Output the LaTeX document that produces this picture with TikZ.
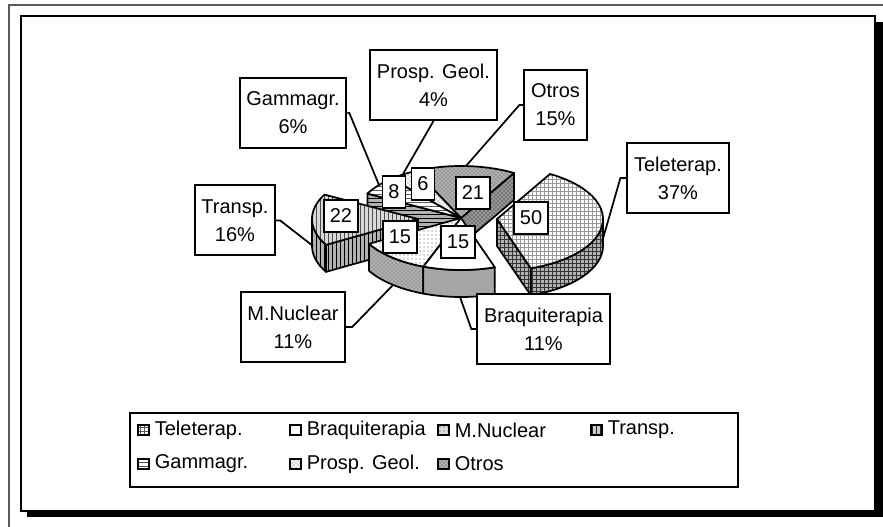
\documentclass[tikz,border=0pt]{standalone}
\usepackage{fontspec}
\setmainfont{Liberation Sans}
\usepackage{tikz}
\usetikzlibrary{positioning,calc,patterns}
\newcommand{\lbl}{\fontsize{15pt}{21pt}\selectfont}
% top face of a slice: apex, from, to, style
\newcommand{\slicetop}[4]{%
  \draw[#4] (#1) -- ($(#1)+(#2:79.5pt and 39pt)$)
    arc[start angle=#2, end angle=#3, x radius=79.5pt, y radius=39pt] -- cycle;}
% outer rim of a slice
\newcommand{\slicerim}[4]{%
  \draw[#4] ($(#1)+(#2:79.5pt and 39pt)$)
    arc[start angle=#2, end angle=#3, x radius=79.5pt, y radius=39pt]
    -- ++(0pt,-20.25pt)
    arc[start angle=#3, end angle=#2, x radius=79.5pt, y radius=39pt] -- cycle;}
% cut face along one radius
\newcommand{\slicecut}[3]{%
  \draw[#3] (#1) -- ($(#1)+(#2:79.5pt and 39pt)$) -- ++(0pt,-20.25pt)
    -- ($(#1)+(0pt,-20.25pt)$) -- cycle;}

\begin{document}
\begin{tikzpicture}[
    x=0.75pt, y=-0.75pt, font=\lbl,
    edge/.style={draw=black, line width=1.3pt, line join=round},
    teletop/.style={edge, preaction={fill=white}, pattern=grid, pattern color=gray!80},
    teleside/.style={edge, preaction={fill=gray!60}, pattern=grid, pattern color=black!80},
    braqtop/.style={edge, fill=white},
    braqside/.style={edge, fill=gray!70},
    mnuctop/.style={edge, preaction={fill=white}, pattern=dots, pattern color=gray!70!black},
    mnucside/.style={edge, preaction={fill=gray!60}, pattern=crosshatch dots, pattern color=black!70},
    transptop/.style={edge, preaction={fill=gray!30}, pattern=vertical lines, pattern color=gray!60!black},
    transpside/.style={edge, preaction={fill=gray!60}, pattern=vertical lines, pattern color=black},
    gammatop/.style={edge, preaction={fill=white}, pattern=horizontal lines, pattern color=gray!70!black},
    gammaside/.style={edge, preaction={fill=gray!60}, pattern=horizontal lines, pattern color=black},
    prosptop/.style={edge, preaction={fill=white}, pattern=crosshatch dots, pattern color=gray!70!black},
    otrostop/.style={edge, preaction={fill=gray!60}, pattern=crosshatch dots, pattern color=black!75},
    otrosside/.style={edge, preaction={fill=gray!80}, pattern=crosshatch dots, pattern color=black},
    callout/.style={draw, fill=white, line width=1.5pt, align=center,
                    inner xsep=5pt, minimum height=52.5pt},
    valbox/.style={draw, fill=white, line width=1.3pt, inner xsep=4.5pt, minimum height=24pt},
    swatch/.style={draw, line width=1.6pt, minimum size=8pt, inner sep=0pt},
    legtext/.style={inner sep=0pt},
    leader/.style={line width=1.3pt},
]
\useasboundingbox (0,0) rectangle (883,527);

% Frames
\draw[gray!70!black, line width=1.5pt] (9,527) -- (9,5) -- (883,5);
\fill[black] (27,22) rectangle (883,517);
\draw[line width=1.5pt, fill=white] (21,16) rectangle (875,511);

% Pie (back to front)
\coordinate (pc) at (461,218);
\coordinate (ptele) at (497,219);
\coordinate (ptransp) at (418,219);

\slicecut{pc}{60}{otrosside}
\slicetop{pc}{60}{115.2}{otrostop}
\slicetop{pc}{115.2}{131}{prosptop}
\slicecut{pc}{152}{gammaside}
\slicetop{pc}{131}{152}{gammatop}
\slicerim{ptransp}{180}{209.8}{transpside}
\slicecut{ptransp}{209.8}{transpside}
\slicetop{ptransp}{152}{209.8}{transptop}
\slicerim{ptele}{-71.4}{0}{teleside}
\slicecut{ptele}{-71.4}{teleside}
\slicetop{ptele}{-71.4}{60}{teletop}
\slicerim{pc}{-150.2}{-110.8}{mnucside}
\slicetop{pc}{-150.2}{-110.8}{mnuctop}
\slicerim{pc}{-110.8}{-71.4}{braqside}
\slicetop{pc}{-110.8}{-71.4}{braqtop}

% Leader ends
\coordinate (teleend) at (602,242);
\coordinate (braqend) at (460,297);
\coordinate (mnucend) at (393,285);
\coordinate (transpend) at (313,246);
\coordinate (gammaend) at (379,185);
\coordinate (prospend) at (403,174);
\coordinate (otrosend) at (466,166);

% Callouts
\node[callout] (telebox) at (678,178) {Teleterap.\\37\%};
\node[callout] (braqbox) at (543.5,329) {Braquiterapia\\11\%};
\node[callout] (mnucbox) at (293,327) {M.Nuclear\\11\%};
\node[callout] (transpbox) at (235,220.5) {Transp.\\16\%};
\node[callout] (gammabox) at (293,113) {Gammagr.\\6\%};
\node[callout] (prospbox) at (433.5,85) {Prosp. Geol.\\4\%};
\node[callout] (otrosbox) at (555.5,105) {Otros\\15\%};

\draw[leader] (telebox.west) -- ++(-6,0) -- (teleend);
\draw[leader] (braqbox.west) -- ++(-5,0) -- (braqend);
\draw[leader] (mnucbox.east) -- ++(6,0) -- (mnucend);
\draw[leader] (transpbox.east) -- ++(4,0) -- (transpend);
\draw[leader] (gammabox.east) -- ++(2,0) -- (gammaend);
\draw[leader] (prospbox.south) -- (prospend);
\draw[leader] (otrosbox.west) -- ++(-4,0) -- (otrosend);

% Values
\node[valbox] (vtele) at (531,218) {50};
\node[valbox] (vbraq) at (458,242) {15};
\node[valbox] (vmnuc) at (400,237) {15};
\node[valbox] (vtransp) at (341,216) {22};
\node[valbox] (vgamma) at (394,192) {8};
\node[valbox] (vprosp) at (423,184) {6};
\node[valbox] (votros) at (473,193) {21};

% Legend
\draw[line width=1.5pt, fill=white] (130,413) rectangle (738,487);
\node[swatch, preaction={fill=white}, pattern=grid, pattern color=gray!70!black] (lgtele) at (143.5,430) {};
\node[legtext, right=3.5pt of lgtele] (lttele) {Teleterap.};
\node[swatch, fill=white] (lgbraq) at (295.5,430) {};
\node[legtext, right=3.5pt of lgbraq] (ltbraq) {Braquiterapia};
\node[swatch, preaction={fill=gray!30}, pattern=dots, pattern color=gray!50!black] (lgmnuc) at (443.5,430) {};
\node[legtext, right=3.5pt of lgmnuc] (ltmnuc) {M.Nuclear};
\node[swatch, preaction={fill=gray!40}, pattern=vertical lines, pattern color=gray!30!black] (lgtransp) at (596.5,430) {};
\node[legtext, right=3.5pt of lgtransp] (lttransp) {Transp.};
\node[swatch, preaction={fill=white}, pattern=horizontal lines, pattern color=gray!60!black] (lggamma) at (143.5,464) {};
\node[legtext, right=3.5pt of lggamma] (ltgamma) {Gammagr.};
\node[swatch, preaction={fill=white}, pattern=crosshatch dots, pattern color=gray!60!black] (lgprosp) at (295.5,464) {};
\node[legtext, right=3.5pt of lgprosp] (ltprosp) {Prosp. Geol.};
\node[swatch, preaction={fill=gray!60}, pattern=crosshatch dots, pattern color=black!75] (lgotros) at (443.5,464) {};
\node[legtext, right=3.5pt of lgotros] (ltotros) {Otros};
\end{tikzpicture}
\end{document}
